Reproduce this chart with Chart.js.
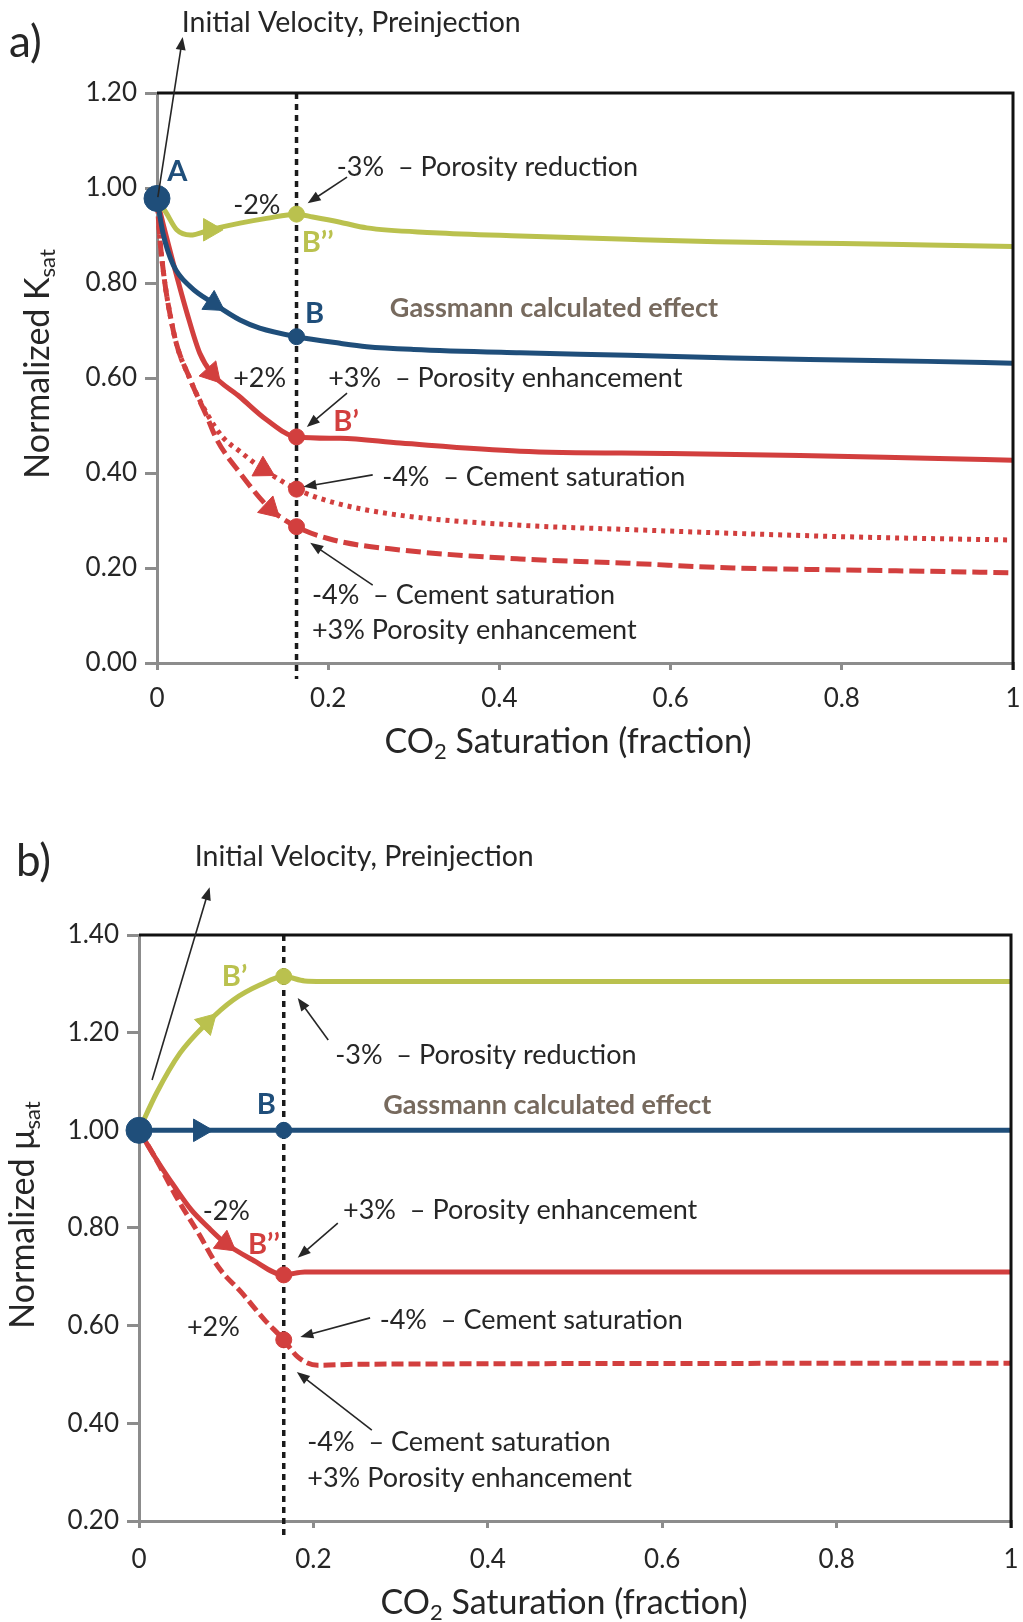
<!DOCTYPE html>
<html>
<head>
<meta charset="utf-8">
<title>Normalized Ksat and μsat vs CO2 saturation</title>
<script src="https://cdn.jsdelivr.net/npm/chart.js@4.4.1/dist/chart.umd.min.js"></script>
<style>
  body { margin: 0; background: #fff; }
  .panel { position: absolute; left: 0; }
</style>
</head>
<body>
<canvas id="chartA" class="panel" style="top:0" width="1023" height="800"></canvas>
<canvas id="chartB" class="panel" style="top:800px" width="1023" height="822"></canvas>
<script>
const GREEN = '#bac14e', BLUE = '#1f4e7a', RED = '#d23f3e', INK = '#262626', AXIS = '#8c8c8c'
const FONT = 'Lato, "Open Sans", sans-serif'

// shared x axis: CO2 saturation (fraction)
const satTicks = [0, 0.2, 0.4, 0.6, 0.8, 1]

// a) normalized K_sat
const kTicks = [0, 0.2, 0.4, 0.6, 0.8, 1.0, 1.2]
const kStateSat = 0.163
const kReductionSat = [0, 0.011, 0.023, 0.039, 0.062, 0.097, 0.128, 0.163, 0.182, 0.214, 0.245, 0.323, 0.424, 0.55, 0.654, 0.8, 0.9, 1]
const kReductionVal = [0.978, 0.947, 0.912, 0.901, 0.912, 0.926, 0.936, 0.945, 0.939, 0.928, 0.916, 0.906, 0.899, 0.892, 0.887, 0.883, 0.880, 0.877]
const kGassmannSat = [0, 0.007, 0.019, 0.039, 0.066, 0.097, 0.12, 0.163, 0.214, 0.245, 0.3, 0.424, 0.55, 0.673, 0.8, 0.9, 1]
const kGassmannVal = [0.978, 0.905, 0.838, 0.792, 0.757, 0.722, 0.705, 0.687, 0.673, 0.666, 0.66, 0.653, 0.648, 0.642, 0.638, 0.635, 0.631]
const kEnhanceSat = [0, 0.004, 0.019, 0.035, 0.05, 0.064, 0.097, 0.128, 0.163, 0.214, 0.284, 0.424, 0.6, 0.751, 0.9, 1]
const kEnhanceVal = [0.978, 0.947, 0.842, 0.737, 0.652, 0.61, 0.56, 0.512, 0.476, 0.473, 0.463, 0.446, 0.441, 0.437, 0.431, 0.427]
const kCementSat = [0, 0.004, 0.019, 0.039, 0.058, 0.077, 0.097, 0.124, 0.163, 0.206, 0.284, 0.424, 0.55, 0.673, 0.8, 0.9, 1]
const kCementVal = [0.978, 0.88, 0.70, 0.596, 0.526, 0.475, 0.445, 0.408, 0.366, 0.338, 0.311, 0.29, 0.281, 0.273, 0.266, 0.262, 0.259]
const kComboSat = [0, 0.004, 0.019, 0.039, 0.058, 0.07, 0.097, 0.132, 0.163, 0.206, 0.284, 0.424, 0.55, 0.673, 0.8, 0.9, 1]
const kComboVal = [0.978, 0.88, 0.70, 0.596, 0.52, 0.47, 0.40, 0.325, 0.287, 0.259, 0.238, 0.219, 0.21, 0.20, 0.196, 0.193, 0.19]
const kArrowSat = [0.062, 0.066, 0.064, 0.124, 0.132]
const kArrowVal = [0.912, 0.757, 0.61, 0.408, 0.325]

// b) normalized mu_sat
const muTicks = [0.2, 0.4, 0.6, 0.8, 1.0, 1.2, 1.4]
const muStateSat = 0.166
const muReductionSat = [0, 0.02, 0.047, 0.078, 0.108, 0.139, 0.166, 0.19, 0.21, 0.4, 0.6, 0.8, 1]
const muReductionVal = [1.0, 1.076, 1.158, 1.22, 1.267, 1.298, 1.315, 1.306, 1.305, 1.305, 1.305, 1.305, 1.305]
const muGassmannSat = [0, 0.166, 1]
const muGassmannVal = [1.0, 1.0, 1.0]
const muEnhanceSat = [0, 0.018, 0.041, 0.06, 0.079, 0.099, 0.13, 0.166, 0.19, 0.22, 1]
const muEnhanceVal = [1.0, 0.946, 0.884, 0.837, 0.802, 0.769, 0.735, 0.704, 0.71, 0.71, 0.71]
const muComboSat = [0, 0.018, 0.045, 0.068, 0.091, 0.118, 0.144, 0.166, 0.182, 0.205, 0.25, 1]
const muComboVal = [1.0, 0.946, 0.857, 0.79, 0.72, 0.667, 0.612, 0.571, 0.536, 0.519, 0.521, 0.523]
const muArrowSat = [0.078, 0.07, 0.099]
const muArrowVal = [1.22, 1.0, 0.769]

const pts = (sat, val) => sat.map((x, i) => ({ x, y: val[i] }))
const at = (sat, val, s) => ({ x: s, y: val[sat.indexOf(s)] })

const curve = (sat, val, color, dash) => ({
    type: 'scatter',
    showLine: true,
    data: pts(sat, val),
    borderColor: color,
    borderWidth: 5,
    borderDash: dash || [],
    pointRadius: 0,
    cubicInterpolationMode: 'monotone',
    clip: 4,
    order: 5,
})

// text, arrows and axis titles for each panel (positions in data units)
const panelNotes = {
    chartA: {
        stateSat: kStateSat,
        tag: ['a)', 9, 43],
        xTitle: [['CO', 0], ['2', 1], [' Saturation (fraction)', 0], 568, 742],
        yTitle: [['Normalized K', 0], ['sat', 1], 38, 364],
        notes: [
            ['Initial Velocity, Preinjection', 0.029, 1.347, 'big'],
            ['A', 0.012, 1.034, 'blue'],
            ['-3%  \u2013 Porosity reduction', 0.210, 1.044, 'plain'],
            ['-2%', 0.089, 0.964, 'plain'],
            ['B\u2019\u2019', 0.169, 0.884, 'green'],
            ['B', 0.173, 0.735, 'blue'],
            ['Gassmann calculated effect', 0.272, 0.747, 'gass'],
            ['+2%', 0.089, 0.60, 'plain'],
            ['+3%  \u2013 Porosity enhancement', 0.2, 0.60, 'plain'],
            ['B\u2019', 0.206, 0.509, 'red'],
            ['-4%  \u2013 Cement saturation', 0.263, 0.392, 'plain'],
            ['-4%  \u2013 Cement saturation', 0.181, 0.143, 'plain'],
            ['+3% Porosity enhancement', 0.181, 0.069, 'plain'],
        ],
        arrows: [
            [0.001, 0.981, 0.030, 1.318],
            [0.222, 1.023, 0.176, 0.968],
            [0.222, 0.568, 0.175, 0.497],
            [0.252, 0.396, 0.171, 0.371],
            [0.252, 0.164, 0.179, 0.253],
        ],
    },
    chartB: {
        stateSat: muStateSat,
        tag: ['b)', 16, 62],
        xTitle: [['CO', 0], ['2', 1], [' Saturation (fraction)', 0], 564, 803],
        yTitle: [['Normalized \u03bc', 0], ['sat', 1], 23, 415],
        notes: [
            ['Initial Velocity, Preinjection', 0.064, 1.560, 'big'],
            ['B\u2019', 0.095, 1.314, 'green'],
            ['-3%  \u2013 Porosity reduction', 0.225, 1.154, 'plain'],
            ['B', 0.135, 1.052, 'blue'],
            ['Gassmann calculated effect', 0.28, 1.052, 'gass'],
            ['-2%', 0.073, 0.835, 'plain'],
            ['+3%  \u2013 Porosity enhancement', 0.234, 0.837, 'plain'],
            ['B\u2019\u2019', 0.125, 0.765, 'red'],
            ['+2%', 0.055, 0.597, 'plain'],
            ['-4%  \u2013 Cement saturation', 0.276, 0.612, 'plain'],
            ['-4%  \u2013 Cement saturation', 0.193, 0.362, 'plain'],
            ['+3% Porosity enhancement', 0.193, 0.288, 'plain'],
        ],
        arrows: [
            [0.015, 1.103, 0.081, 1.498],
            [0.217, 1.185, 0.182, 1.271],
            [0.228, 0.81, 0.182, 0.739],
            [0.265, 0.616, 0.185, 0.577],
            [0.267, 0.386, 0.181, 0.505],
        ],
    },
}

const noteStyle = {
    plain: ['27px ' + FONT, INK],
    big: ['28.5px ' + FONT, INK],
    gass: ['bold 27px ' + FONT, '#776a5e'],
    blue: ['bold 29px ' + FONT, BLUE],
    green: ['bold 29px ' + FONT, GREEN],
    red: ['bold 29px ' + FONT, RED],
}

function drawParts(ctx, parts, size) {
    const fonts = parts.map(p => (p[1] ? Math.round(size * 0.66) : size) + 'px ' + FONT)
    const widths = parts.map((p, i) => { ctx.font = fonts[i]; return ctx.measureText(p[0]).width })
    let x = -widths.reduce((a, b) => a + b, 0) / 2
    parts.forEach((p, i) => {
        ctx.font = fonts[i]
        ctx.fillText(p[0], x, p[1] ? size * 0.3 : 0)
        x += widths[i]
    })
}

const notesPlugin = {
    id: 'notes',
    beforeDatasetsDraw(chart) {
        const cfg = panelNotes[chart.canvas.id]
        const { ctx, chartArea } = chart
        const x = chart.scales.x.getPixelForValue(cfg.stateSat)
        ctx.save()
        ctx.strokeStyle = '#1a1a1a'
        ctx.lineWidth = 3.5
        ctx.setLineDash([6, 5])
        ctx.beginPath()
        ctx.moveTo(x, chartArea.top)
        ctx.lineTo(x, chartArea.bottom + 16)
        ctx.stroke()
        ctx.restore()
    },
    afterDraw(chart) {
        const cfg = panelNotes[chart.canvas.id]
        const { ctx, chartArea } = chart
        const sx = chart.scales.x, sy = chart.scales.y
        ctx.save()
        // frame: top and right edges in black
        ctx.strokeStyle = '#111'
        ctx.lineWidth = 3
        ctx.beginPath()
        ctx.moveTo(chartArea.left, chartArea.top)
        ctx.lineTo(chartArea.right, chartArea.top)
        ctx.lineTo(chartArea.right, chartArea.bottom + 7)
        ctx.stroke()

        ctx.textBaseline = 'middle'
        ctx.textAlign = 'left'
        cfg.notes.forEach(([text, sat, val, style]) => {
            ctx.font = noteStyle[style][0]
            ctx.fillStyle = noteStyle[style][1]
            ctx.fillText(text, sx.getPixelForValue(sat), sy.getPixelForValue(val))
        })

        ctx.strokeStyle = INK
        ctx.fillStyle = INK
        ctx.lineWidth = 1.6
        cfg.arrows.forEach(([s0, v0, s1, v1]) => {
            const x0 = sx.getPixelForValue(s0), y0 = sy.getPixelForValue(v0)
            const x1 = sx.getPixelForValue(s1), y1 = sy.getPixelForValue(v1)
            const a = Math.atan2(y1 - y0, x1 - x0)
            ctx.beginPath()
            ctx.moveTo(x0, y0)
            ctx.lineTo(x1 - 8 * Math.cos(a), y1 - 8 * Math.sin(a))
            ctx.stroke()
            ctx.beginPath()
            ctx.moveTo(x1, y1)
            ctx.lineTo(x1 - 13 * Math.cos(a) + 5 * Math.sin(a), y1 - 13 * Math.sin(a) - 5 * Math.cos(a))
            ctx.lineTo(x1 - 13 * Math.cos(a) - 5 * Math.sin(a), y1 - 13 * Math.sin(a) + 5 * Math.cos(a))
            ctx.closePath()
            ctx.fill()
        })

        ctx.fillStyle = INK
        ctx.textAlign = 'left'
        ctx.font = '44px ' + FONT
        ctx.fillText(cfg.tag[0], cfg.tag[1], cfg.tag[2])

        const xt = cfg.xTitle
        ctx.save()
        ctx.translate(xt[3], xt[4])
        drawParts(ctx, xt.slice(0, 3), 34)
        ctx.restore()

        const yt = cfg.yTitle
        ctx.save()
        ctx.translate(yt[2], yt[3])
        ctx.rotate(-Math.PI / 2)
        drawParts(ctx, yt.slice(0, 2), 34)
        ctx.restore()
        ctx.restore()
    },
}

const axes = (yTicks, yWidth, xHeight, xPad) => ({
    x: {
        type: 'linear',
        min: 0,
        max: 1,
        afterBuildTicks: s => { s.ticks = satTicks.map(value => ({ value })) },
        afterFit: s => {
            s.height = xHeight
            s.paddingLeft = 0
            s.paddingRight = 0
        },
        ticks: {
            color: INK,
            font: { family: FONT, size: 26 },
            padding: xPad,
            maxRotation: 0,
            autoSkip: false,
            callback: v => (v === 0 || v === 1 ? String(v) : v.toFixed(1)),
        },
        grid: { drawOnChartArea: false, color: AXIS, lineWidth: 3, tickLength: 7 },
        border: { color: AXIS, width: 3 },
    },
    y: {
        type: 'linear',
        min: yTicks[0],
        max: yTicks[yTicks.length - 1],
        afterBuildTicks: s => { s.ticks = yTicks.map(value => ({ value })) },
        afterFit: s => { s.width = yWidth },
        ticks: {
            color: INK,
            font: { family: FONT, size: 26 },
            padding: 8,
            autoSkip: false,
            callback: v => v.toFixed(2),
        },
        grid: { drawOnChartArea: false, color: AXIS, lineWidth: 3, tickLength: 12 },
        border: { color: AXIS, width: 3 },
    },
})

const markers = (sat, val, rotation, colors) => ({
    type: 'scatter',
    data: pts(sat, val),
    pointStyle: 'triangle',
    pointRadius: 13,
    rotation,
    backgroundColor: colors,
    borderColor: colors,
    borderWidth: 1,
    clip: false,
    order: 1,
})

const dots = (data, colors, radius) => ({
    type: 'scatter',
    data,
    pointStyle: 'circle',
    pointRadius: radius,
    backgroundColor: colors,
    borderColor: colors,
    borderWidth: 1,
    clip: false,
    order: 0,
})

const baseOptions = (yTicks, yWidth, xHeight, xPad, top, right) => ({
    responsive: false,
    animation: false,
    layout: { autoPadding: false, padding: { top, right, left: 0, bottom: 0 } },
    scales: axes(yTicks, yWidth, xHeight, xPad),
    plugins: { legend: { display: false }, tooltip: { enabled: false } },
})

new Chart(document.getElementById('chartA'), {
    type: 'scatter',
    data: {
        datasets: [
            curve(kReductionSat, kReductionVal, GREEN),
            curve(kGassmannSat, kGassmannVal, BLUE),
            curve(kEnhanceSat, kEnhanceVal, RED),
            curve(kCementSat, kCementVal, RED, [4, 5]),
            curve(kComboSat, kComboVal, RED, [15, 6]),
            markers(kArrowSat, kArrowVal, [90, 123, 138, 119, 133], [GREEN, BLUE, RED, RED, RED]),
            dots([
                at(kReductionSat, kReductionVal, kStateSat),
                at(kGassmannSat, kGassmannVal, kStateSat),
                at(kEnhanceSat, kEnhanceVal, kStateSat),
                at(kCementSat, kCementVal, kStateSat),
                at(kComboSat, kComboVal, kStateSat),
            ], [GREEN, BLUE, RED, RED, RED], 8),
            dots([at(kGassmannSat, kGassmannVal, 0)], [BLUE], 13),
        ],
    },
    options: baseOptions(kTicks, 157, 137, 13, 93, 10),
    plugins: [notesPlugin],
})

new Chart(document.getElementById('chartB'), {
    type: 'scatter',
    data: {
        datasets: [
            curve(muReductionSat, muReductionVal, GREEN),
            curve(muGassmannSat, muGassmannVal, BLUE),
            curve(muEnhanceSat, muEnhanceVal, RED),
            curve(muComboSat, muComboVal, RED, [12, 5]),
            markers(muArrowSat, muArrowVal, [45, 90, 127], [GREEN, BLUE, RED]),
            dots([
                at(muReductionSat, muReductionVal, muStateSat),
                at(muGassmannSat, muGassmannVal, muStateSat),
                at(muEnhanceSat, muEnhanceVal, muStateSat),
                at(muComboSat, muComboVal, muStateSat),
            ], [GREEN, BLUE, RED, RED], 8),
            dots([at(muGassmannSat, muGassmannVal, 0)], [BLUE], 13),
        ],
    },
    options: baseOptions(muTicks, 139, 101, 16, 135, 12),
    plugins: [notesPlugin],
})
</script>
</body>
</html>
